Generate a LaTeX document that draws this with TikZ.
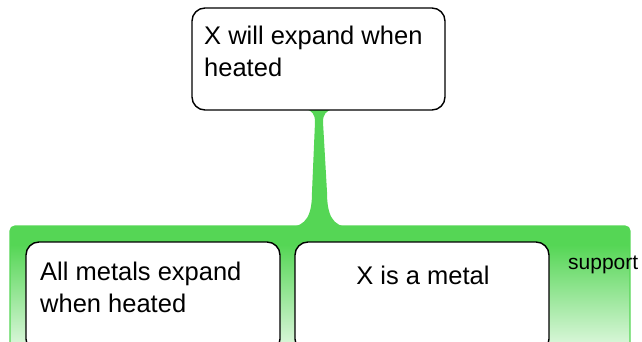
\documentclass[tikz,border=0pt]{standalone}
\usepackage{fontspec}
\setmainfont{Liberation Sans}
\definecolor{gr}{RGB}{85,214,85}
\definecolor{grlight}{RGB}{238,251,238}
\pgfdeclareverticalshading{supfade}{100bp}{color(0bp)=(grlight); color(25bp)=(grlight); color(68bp)=(gr); color(100bp)=(gr)}
\tikzset{
  box/.style={draw=black, line width=1.4pt, rounded corners=13pt, fill=white, inner sep=0pt},
  txt/.style={inner sep=0pt, anchor=base west, font=\fontsize{25.5}{32}\selectfont},
  small/.style={inner sep=0pt, anchor=base west, font=\fontsize{21}{25}\selectfont}
}
\begin{document}
\begin{tikzpicture}[x=1pt,y=-1pt]
\useasboundingbox (0,0) rectangle (642,342);
\clip (0,0) rectangle (642,342);
% support region
\shade[shading=supfade, draw=gr, line width=1.2pt, rounded corners=5pt]
  (10,360) -- (10,226) -- (630,226) -- (630,360);
% stem connecting conclusion to support region
\fill[gr] (288,227) .. controls (307,227) and (312,214) .. (312,192)
  -- (315,122) .. controls (315,114) and (312,111) .. (306,109)
  -- (333,109) .. controls (326,111) and (323,114) .. (323,122)
  -- (327,192) .. controls (327,214) and (332,227) .. (350,227) -- cycle;
% boxes
\node[box, minimum width=253pt, minimum height=102pt] (top) at (318.5,59) {};
\node[box, minimum width=254pt, minimum height=110pt] (left) at (153,297) {};
\node[box, minimum width=254pt, minimum height=110pt] (right) at (422,297) {};
% texts
\node[txt] (top1) at (204,45) {X will expand when};
\node[txt] (top2) at (204,77) {heated};
\node[txt] (left1) at (40,280) {All metals expand};
\node[txt] (left2) at (40,312) {when heated};
\node[txt, anchor=base] (right1) at (423,284) {X is a metal};
\node[small] (sup) at (568,269) {support};
\end{tikzpicture}
\end{document}
